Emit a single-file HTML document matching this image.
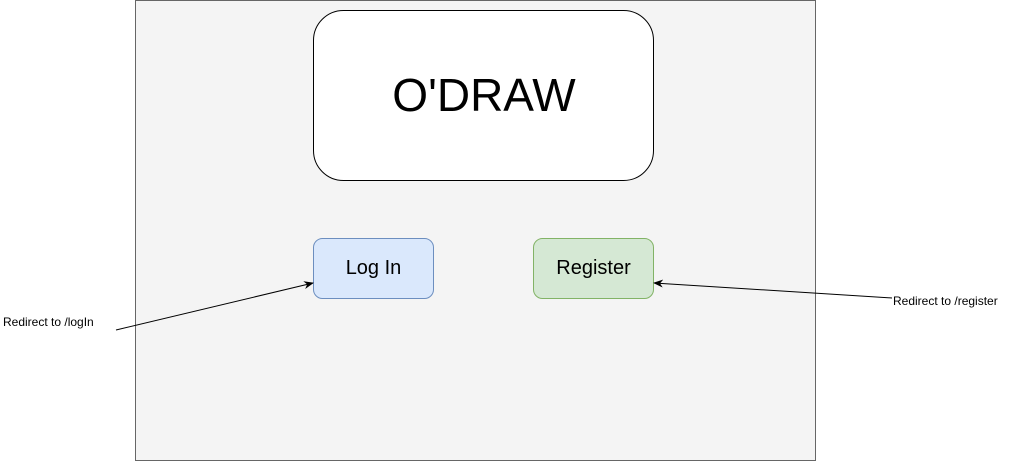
<!DOCTYPE html>
<html><head><meta charset="utf-8"><style>
html,body{margin:0;padding:0;background:#fff;}
</style></head><body>
<svg width="1013" height="461" xmlns="http://www.w3.org/2000/svg" style="display:block">
<defs>
<marker id="a" markerWidth="10" markerHeight="8" refX="9" refY="4" orient="auto" markerUnits="userSpaceOnUse">
<path d="M0,0 L10,4 L0,8 L3,4 Z" fill="#000"/>
</marker>
</defs>
<rect x="135.5" y="0.5" width="680" height="460" fill="#f4f4f4" stroke="#666"/>
<rect x="313.5" y="10.5" width="340" height="170" rx="30" fill="#fff" stroke="#000"/>
<text x="484" y="111" font-family="Liberation Sans, sans-serif" font-size="46" text-anchor="middle">O'DRAW</text>
<rect x="313.5" y="238.5" width="120" height="60" rx="9" fill="#dae8fc" stroke="#6c8ebf"/>
<text x="373.5" y="274" font-family="Liberation Sans, sans-serif" font-size="20" text-anchor="middle">Log In</text>
<rect x="533.5" y="238.5" width="120" height="60" rx="9" fill="#d5e8d4" stroke="#82b366"/>
<text x="593.5" y="274" font-family="Liberation Sans, sans-serif" font-size="20" text-anchor="middle">Register</text>
<line x1="116" y1="330" x2="313" y2="283" stroke="#000" stroke-width="1" marker-end="url(#a)"/>
<line x1="892" y1="298" x2="654" y2="283" stroke="#000" stroke-width="1" marker-end="url(#a)"/>
<text x="3" y="326" font-family="Liberation Sans, sans-serif" font-size="12">Redirect to /logIn</text>
<text x="893" y="305" font-family="Liberation Sans, sans-serif" font-size="12">Redirect to /register</text>
</svg>
</body></html>
